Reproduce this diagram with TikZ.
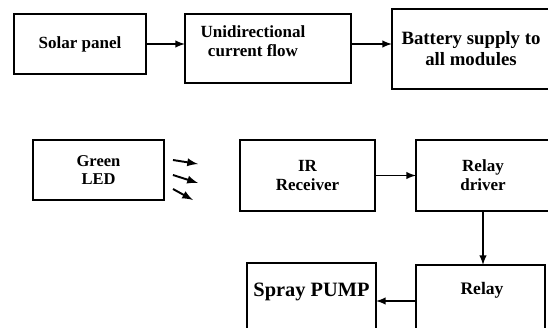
\documentclass[tikz,border=0pt]{standalone}
\usepackage{fontspec}
\setmainfont{Liberation Serif}
\usepackage{tikz}
\usetikzlibrary{shapes,arrows,positioning,calc}

\begin{document}
\begin{tikzpicture}[x=0.02cm,y=-0.02cm,
  every node/.style={outer sep=0pt,align=center},
  blk/.style={draw,line width=1.1pt,inner sep=0pt,
    font=\bfseries\fontsize{9.7}{10.8}\selectfont},
  arr/.style={-latex,line width=0.9pt},
  ray/.style={-latex,line width=1.1pt}]
\useasboundingbox (0,0) rectangle (548,328);
\clip (0,0) rectangle (548,328);
% supply chain
\node (solar) [blk,minimum width=2.64cm,minimum height=1.2cm] at (80,44)
{Solar panel};
\node (uni) [blk,minimum width=3.32cm,minimum height=1.38cm,
  label={[font=\bfseries\fontsize{9.7}{10.8}\selectfont,align=center,
  xshift=-0.3cm,yshift=0.14cm]center:Unidirectional\\current flow}] at (268,48.5) {};
\node (batt) [blk,minimum width=3.16cm,minimum height=1.6cm,
  font=\bfseries\fontsize{10.7}{11.9}\selectfont] at (471,49)
{Battery supply to\\all modules};
\draw [arr] (solar.east) -- (solar.east -| uni.west);
\draw [arr] (uni.east |- solar.east) -- (batt.west |- solar.east);
% pump control
\node (led) [blk,minimum width=2.62cm,minimum height=1.2cm,
  font=\bfseries\fontsize{9.4}{10.2}\selectfont] at (98.5,170)
{Green\\LED};
\node (ir) [blk,minimum width=2.7cm,minimum height=1.42cm] at (307.5,175.5)
{IR\\Receiver};
\node (driver) [blk,minimum width=2.68cm,minimum height=1.42cm] at (483,175.5)
{Relay\\driver};
\node (relay) [blk,minimum width=2.58cm,minimum height=1.44cm,
  label={[font=\bfseries\fontsize{10}{11}\selectfont,
  xshift=0.03cm,yshift=0.22cm]center:Relay}] at (480.5,301) {};
\node (pump) [blk,minimum width=2.58cm,minimum height=1.52cm,
  label={[font=\bfseries\fontsize{11.6}{13}\selectfont,
  yshift=0.18cm]center:Spray PUMP}] at (311.5,301) {};
\foreach \sx/\sy/\ex/\ey in {9/-10/25/4, 9/5/25/8, 9/19/20/11}
  \draw [ray] ([shift={(\sx,\sy)}]led.east) -- +(\ex,\ey);
\draw [arr] (ir.east) -- (ir.east -| driver.west);
\draw [arr] (driver.south) -- (driver.south |- relay.north);
\draw [arr] (relay.west) -- (pump.east);
\end{tikzpicture}
\end{document}
